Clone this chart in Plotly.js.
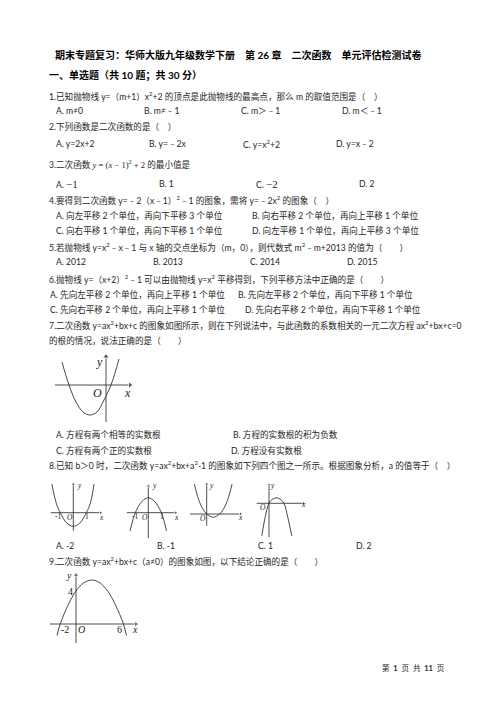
<!DOCTYPE html>
<html><head><meta charset="utf-8">
<script src="https://cdn.plot.ly/plotly-3.0.1.min.js"></script>
<style>html,body{margin:0;padding:0;background:#fff}#c{width:496px;height:702px}</style>
</head><body><div id="c"></div>
<script>
// ---------- text content ----------
var titleText = "期末专题复习：华师大版九年级数学下册　第 26 章　二次函数　单元评估检测试卷";
var sectionText = "一、单选题（共 10 题；共 30 分）";
var questions = [
  "1.已知抛物线 y=（m+1）x<sup>2</sup>+2 的顶点是此抛物线的最高点，那么 m 的取值范围是（　）",
  "2.下列函数是二次函数的是（　）",
  "3.二次函数 <span style='font-family:Liberation Serif'><i>y</i> = (<i>x</i> − 1)<sup>2</sup> + 2</span> 的最小值是",
  "4.要得到二次函数 y=﹣2（x﹣1）<sup>2</sup>﹣1 的图象，需将 y=﹣2x<sup>2</sup> 的图象（　）",
  "5.若抛物线 y=x<sup>2</sup>﹣x﹣1 与 x 轴的交点坐标为（m，0），则代数式 m<sup>2</sup>﹣m+2013 的值为（　　）",
  "6.抛物线 y=（x+2）<sup>2</sup>﹣1 可以由抛物线 y=x<sup>2</sup> 平移得到，下列平移方法中正确的是（　　）",
  "7.二次函数 y=ax<sup>2</sup>+bx+c 的图象如图所示，则在下列说法中，与此函数的系数相关的一元二次方程 ax<sup>2</sup>+bx+c=0",
  "的根的情况，说法正确的是（　　）",
  "8.已知 b＞0 时，二次函数 y=ax<sup>2</sup>+bx+a<sup>2</sup>-1 的图象如下列四个图之一所示。根据图象分析，a 的值等于（　）",
  "9.二次函数 y=ax<sup>2</sup>+bx+c（a≠0）的图象如图，以下结论正确的是（　　）"
];
var opts1 = ["A. m≠0", "B. m≠﹣1", "C. m＞﹣1", "D. m＜﹣1"];
var opts2 = ["A. y=2x+2", "B. y=﹣2x", "C. y=x<sup>2</sup>+2", "D. y=x﹣2"];
var opts3 = ["A. <span style='font-family:Liberation Serif;font-size:11px'>−1</span>", "B. 1", "C. <span style='font-family:Liberation Serif;font-size:11px'>−2</span>", "D. 2"];
var opts4 = ["A. 向左平移 2 个单位，再向下平移 3 个单位", "B. 向右平移 2 个单位，再向上平移 1 个单位",
             "C. 向右平移 1 个单位，再向下平移 1 个单位", "D. 向左平移 1 个单位，再向上平移 3 个单位"];
var opts5 = ["A. 2012", "B. 2013", "C. 2014", "D. 2015"];
var opts6 = ["A. 先向左平移 2 个单位，再向上平移 1 个单位", "B. 先向左平移 2 个单位，再向下平移 1 个单位",
             "C. 先向右平移 2 个单位，再向上平移 1 个单位", "D. 先向右平移 2 个单位，再向下平移 1 个单位"];
var opts7 = ["A. 方程有两个相等的实数根", "B. 方程的实数根的积为负数", "C. 方程有两个正的实数根", "D. 方程没有实数根"];
var opts8 = ["A. -2", "B. -1", "C. 1", "D. 2"];
var footerText = "第\u00a0\u00a0<b>1</b>\u00a0\u00a0页\u00a0\u00a0共\u00a0\u00a0<b>11</b>\u00a0\u00a0页";

// ---------- curve points ----------
var q7X = [-4.4, -3.7, -3.0, -2.3, -1.6, -0.9, -0.2, 0.5, 1.3];
var q7Y = [2.3, 0, -1.7, -2.7, -3.0, -2.7, -1.5, 0, 2.6];
var q8aX = [-1.65, -1.3, -1, -0.5, 0, 0.5, 1, 1.3, 1.6];
var q8aY = [2.2, 0.7, 0, -0.8, -1.05, -0.8, 0, 0.7, 2.2];
var q8bX = [-1.4, -1, -0.5, 0, 0.5, 1, 1.4];
var q8bY = [-1.4, 0, 0.85, 1.15, 0.85, 0, -1.4];
var q8cX = [-0.95, -0.6, -0.3, 0, 0.5, 1, 1.3, 1.6, 1.95];
var q8cY = [2.3, 1.05, 0.4, 0, -0.25, 0, 0.4, 1.05, 2.3];
var q8dX = [-0.55, -0.3, 0, 0.3, 0.57, 0.85, 1.15, 1.45, 1.75];
var q8dY = [-2.5, -1.1, 0, 0.33, 0.42, 0.33, 0, -1.1, -2.5];
var q9X = [-2.4, -2, -1, 0, 1, 2, 3, 4, 5, 6, 6.4];
var q9Y = [-1.4, 0, 2.3, 4, 5, 5.33, 5, 4, 2.3, 0, -1.4];
var q8aTicks = [-1, 1], q8bTicks = [-1, 1];
var q9TicksX = [-2, 6], q9TicksY = [4];

// ---------- layout helpers ----------
var W = 496, H = 702;
var ann = [];
var CJK = "Lato, 'Noto Sans CJK SC', sans-serif";
var INK = "#262626";
function txt(s, x, y, size, extra) {
  var a = {text: s, x: x, y: y, xref: 'x', yref: 'y', showarrow: false, xanchor: 'left', yanchor: 'middle',
           font: {family: CJK, size: size || 8.6, color: INK}};
  if (extra) for (var k in extra) a[k] = extra[k];
  ann.push(a);
}
txt("<b>" + titleText + "</b>", 53, 55, 10, {font: {family: CJK, size: 10, color: '#000'}});
txt("<b>" + sectionText + "</b>", 47, 75.5, 10, {font: {family: CJK, size: 10, color: '#000'}});
var qY = [96, 126.5, 164, 199.5, 246.5, 278.5, 325, 340.5, 465, 561];
questions.forEach(function (q, i) { txt(q, 47, qY[i]); });
function row(list, xs, y) { list.forEach(function (o, i) { txt(o, xs[i], y); }); }
row(opts1, [54, 142, 239, 340], 111);
row(opts2, [54, 147, 240.5, 333.5], 143.5);
row(opts3, [54, 156.5, 254, 356.5], 184);
row(opts4.slice(0, 2), [54, 250], 215.5);
row(opts4.slice(2), [54, 250], 230.8);
row(opts5, [54, 150.5, 248, 345], 262);
row(opts6.slice(0, 2), [47.5, 236], 294);
row(opts6.slice(2), [47.5, 242.5], 309);
row(opts7.slice(0, 2), [54, 230.5], 434);
row(opts7.slice(2), [54, 229], 450);
row(opts8, [54, 154.5, 256, 353.5], 546);
txt(footerText, 380, 668.3, 7.5);

// ---------- mini graphs ----------
var graphs = [
  {id: 2, ox: 106, oy: 385, sx: 10, sy: 10, x0: 48, x1: 142, y0: 350, y1: 428, X: q7X, Y: q7Y,
   ax: [-5.1, 2.4], ay: [-3.7, 2.85], hs: 6},
  {id: 3, ox: 73.3, oy: 512.7, sx: 13, sy: 13, x0: 44, x1: 110, y0: 476, y1: 542, X: q8aX, Y: q8aY,
   ax: [-1.74, 2.1], ay: [-1.4, 2.2], hs: 4},
  {id: 4, ox: 148.3, oy: 512.7, sx: 13, sy: 13, x0: 120, x1: 185, y0: 476, y1: 542, X: q8bX, Y: q8bY,
   ax: [-1.66, 2.1], ay: [-1.95, 2.05], hs: 4},
  {id: 5, ox: 206.7, oy: 514, sx: 13, sy: 13, x0: 186, x1: 248, y0: 476, y1: 542, X: q8cX, Y: q8cY,
   ax: [-1.28, 2.6], ay: [-0.9, 2.3], hs: 4},
  {id: 6, ox: 269, oy: 503.3, sx: 13, sy: 13, x0: 250, x1: 312, y0: 476, y1: 542, X: q8dX, Y: q8dY,
   ax: [-0.95, 2.65], ay: [-2.6, 1.42], hs: 4},
  {id: 7, ox: 76, oy: 624, sx: 7.9, sy: 8.25, x0: 42, x1: 148, y0: 568, y1: 650, X: q9X, Y: q9Y,
   ax: [-3.3, 7.6], ay: [-2.3, 5.95], hs: 5}
];
var data = [{x: [], y: [], xaxis: 'x', yaxis: 'y', type: 'scatter', hoverinfo: 'skip'}];
var layout = {
  width: W, height: H, margin: {l: 0, r: 0, t: 0, b: 0}, paper_bgcolor: '#fff', plot_bgcolor: 'rgba(0,0,0,0)',
  showlegend: false, hovermode: false,
  xaxis: {range: [0, W], domain: [0, 1], visible: false, fixedrange: true},
  yaxis: {range: [H, 0], domain: [0, 1], visible: false, fixedrange: true},
  annotations: ann
};
var SERIF = "'Liberation Serif', 'DejaVu Serif', serif";
graphs.forEach(function (g) {
  var xa = 'xaxis' + g.id, ya = 'yaxis' + g.id, xr = 'x' + g.id, yr = 'y' + g.id;
  layout[xa] = {domain: [g.x0 / W, g.x1 / W], range: [(g.x0 - g.ox) / g.sx, (g.x1 - g.ox) / g.sx],
                anchor: yr, visible: false, fixedrange: true};
  layout[ya] = {domain: [1 - g.y1 / H, 1 - g.y0 / H], range: [(g.oy - g.y1) / g.sy, (g.oy - g.y0) / g.sy],
                anchor: xr, visible: false, fixedrange: true};
  data.push({x: g.ax, y: [0, 0], xaxis: xr, yaxis: yr, type: 'scatter', mode: 'lines+markers',
             line: {color: '#222', width: 0.8}, marker: {symbol: 'triangle-right', size: [0, g.hs], color: '#222'},
             hoverinfo: 'skip', cliponaxis: false});
  data.push({x: [0, 0], y: g.ay, xaxis: xr, yaxis: yr, type: 'scatter', mode: 'lines+markers',
             line: {color: '#222', width: 0.8}, marker: {symbol: 'triangle-up', size: [0, g.hs], color: '#222'},
             hoverinfo: 'skip', cliponaxis: false});
  data.push({x: g.X, y: g.Y, xaxis: xr, yaxis: yr, type: 'scatter', mode: 'lines',
             line: {shape: 'spline', smoothing: 1, color: '#333', width: 0.9}, hoverinfo: 'skip', cliponaxis: false});
});
function lab(s, x, y, size, italic) {
  ann.push({text: italic ? '<i>' + s + '</i>' : s, x: x, y: y, xref: 'x', yref: 'y', showarrow: false,
            xanchor: 'center', yanchor: 'middle', font: {family: SERIF, size: size, color: '#222'}});
}
// Q7 labels
lab('y', 99, 361.5, 12, true); lab('O', 97, 392.5, 12, true); lab('x', 127, 392.5, 12, true);
// Q8 labels
lab('y', 79, 485, 7.5, true); lab('O', 70, 517.3, 7.5, true); lab('x', 101.7, 517.3, 7.5, true);
lab('y', 154, 485, 7.5, true); lab('O', 145, 517.3, 7.5, true); lab('x', 176.7, 517.3, 7.5, true);
lab('y', 211.7, 485, 7.5, true); lab('O', 203.3, 518, 7.5, true); lab('x', 240.7, 517, 7.5, true);
lab('y', 272.3, 485.7, 7.5, true); lab('O', 263.3, 507.3, 7.5, true); lab('x', 303.3, 504.7, 7.5, true);
function tick(s, xr, yr, x, y, dx, dy, size) {
  ann.push({text: s, x: x, y: y, xref: xr, yref: yr, showarrow: false, xshift: dx, yshift: dy,
            xanchor: 'center', yanchor: 'middle', font: {family: SERIF, size: size, color: '#222'}});
}
q8aTicks.forEach(function (t) { tick(t < 0 ? '-1' : '1', 'x3', 'y3', t, 0, t < 0 ? -2 : 0.5, -4, 7.5); });
q8bTicks.forEach(function (t) { tick(t < 0 ? '-1' : '1', 'x4', 'y4', t, 0, t < 0 ? 0 : 0.5, -4, 7.5); });
q9TicksX.forEach(function (t) { tick(String(t), 'x7', 'y7', t, 0, t < 0 ? 4.5 : -3.5, -5, 10); });
q9TicksY.forEach(function (t) { tick(String(t), 'x7', 'y7', 0, t, -5.5, 0, 10); });
lab('y', 69, 575, 10, true); lab('O', 81, 629, 10, true); lab('x', 135, 629.5, 10, true);

Plotly.newPlot('c', data, layout, {staticPlot: true, displayModeBar: false});
</script></body></html>
